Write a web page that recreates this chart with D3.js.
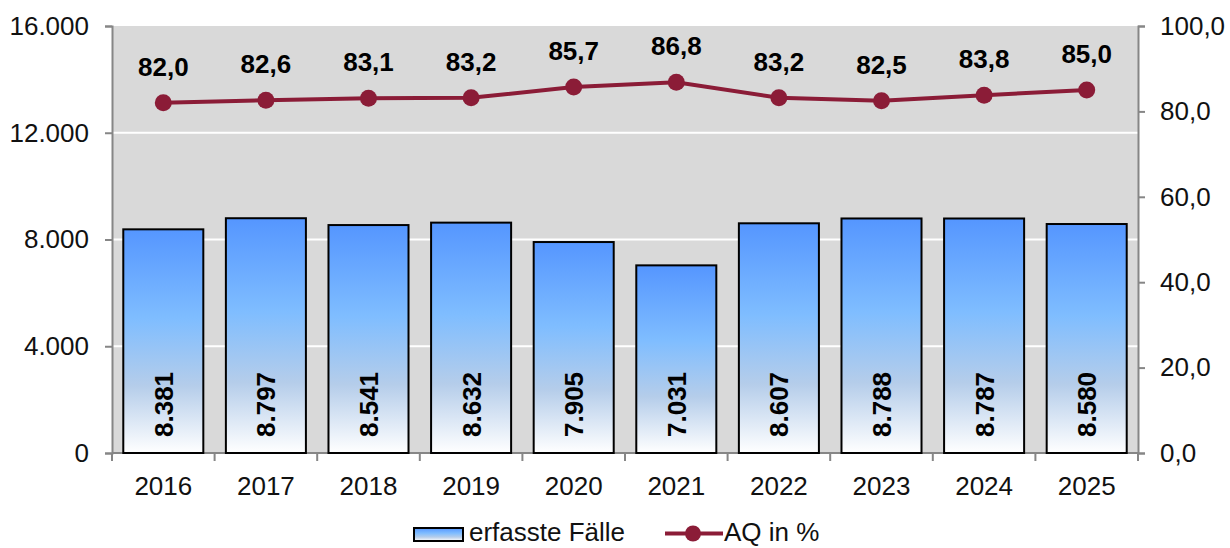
<!DOCTYPE html>
<html lang="de">
<head>
<meta charset="utf-8">
<title>erfasste Fälle / AQ in %</title>
<style>
  body { margin: 0; background: #fff; }
  svg { display: block; font-family: "Liberation Sans", Arial, sans-serif; }
</style>
</head>
<body>
<div id="chart"></div>
<script src="https://cdn.jsdelivr.net/npm/d3@7"></script>
<script>
// data
var years  = ["2016", "2017", "2018", "2019", "2020", "2021", "2022", "2023", "2024", "2025"];
var faelle = [8381, 8797, 8541, 8632, 7905, 7031, 8607, 8788, 8787, 8580];
var aq     = [82.0, 82.6, 83.1, 83.2, 85.7, 86.8, 83.2, 82.5, 83.8, 85.0];
var leftTicks  = [0, 4000, 8000, 12000, 16000];
var rightTicks = [0, 20, 40, 60, 80, 100];

var width = 1230, height = 548;
var m = { top: 26, right: 92, bottom: 95, left: 112 };
var lineColor = "#8b1c37";
var fs = 26;

var de = d3.formatLocale({ decimal: ",", thousands: ".", grouping: [3], currency: ["", "€"] });
var fmtInt = de.format(",.0f");
var fmt1 = de.format(".1f");

var svg = d3.select("#chart").append("svg")
    .attr("width", width)
    .attr("height", height);

var defs = svg.append("defs");
var grad = defs.append("linearGradient")
    .attr("id", "barGrad")
    .attr("x1", 0).attr("y1", 0).attr("x2", 0).attr("y2", 1);
grad.append("stop").attr("offset", "0%").attr("stop-color", "#5596ff");
grad.append("stop").attr("offset", "40%").attr("stop-color", "#7fbdff");
grad.append("stop").attr("offset", "70%").attr("stop-color", "#b5cdea");
grad.append("stop").attr("offset", "100%").attr("stop-color", "#ffffff");

var x = d3.scaleBand()
    .domain(years)
    .range([m.left, width - m.right])
    .paddingInner(0.22)
    .paddingOuter(0.11);

var yL = d3.scaleLinear().domain([0, 16000]).range([height - m.bottom, m.top]);
var yR = d3.scaleLinear().domain([0, 100]).range([height - m.bottom, m.top]);

// plot background
svg.append("rect")
    .attr("x", m.left).attr("y", m.top)
    .attr("width", width - m.left - m.right)
    .attr("height", height - m.top - m.bottom)
    .attr("fill", "#d9d9d9");

// grid
svg.append("g").selectAll("line")
    .data(leftTicks.slice(1, -1))
    .join("line")
    .attr("x1", m.left).attr("x2", width - m.right)
    .attr("y1", d => yL(d)).attr("y2", d => yL(d))
    .attr("stroke", "#fff").attr("stroke-width", 2);

// axes
var axisColor = "#868686";
var gL = svg.append("g")
    .attr("transform", `translate(${m.left},0)`)
    .call(d3.axisLeft(yL).tickValues(leftTicks).tickFormat(fmtInt).tickSize(7).tickPadding(16));
var gR = svg.append("g")
    .attr("transform", `translate(${width - m.right},0)`)
    .call(d3.axisRight(yR).tickValues(rightTicks).tickFormat(fmt1).tickSize(7).tickPadding(15));
[gL, gR].forEach(g => {
  g.select(".domain").attr("stroke", axisColor).attr("stroke-width", 2);
  g.selectAll(".tick line").attr("stroke", axisColor).attr("stroke-width", 2);
  g.selectAll(".tick text").attr("font-size", fs).attr("fill", "#111");
});

// x axis
var bounds = d3.range(years.length + 1).map(i => m.left + i * (width - m.left - m.right) / years.length);
var gX = svg.append("g");
gX.append("line")
    .attr("x1", m.left).attr("x2", width - m.right)
    .attr("y1", yL(0)).attr("y2", yL(0))
    .attr("stroke", axisColor).attr("stroke-width", 2);
gX.selectAll("line.tk")
    .data(bounds)
    .join("line")
    .attr("class", "tk")
    .attr("x1", d => d).attr("x2", d => d)
    .attr("y1", yL(0)).attr("y2", yL(0) + 8)
    .attr("stroke", axisColor).attr("stroke-width", 2);
gX.selectAll("text")
    .data(years)
    .join("text")
    .attr("x", d => x(d) + x.bandwidth() / 2)
    .attr("y", yL(0) + 42)
    .attr("text-anchor", "middle")
    .attr("font-size", fs)
    .attr("fill", "#111")
    .text(d => d);

// bars
svg.append("g").selectAll("rect")
    .data(years)
    .join("rect")
    .attr("x", d => x(d))
    .attr("y", (d, i) => yL(faelle[i]))
    .attr("width", x.bandwidth())
    .attr("height", (d, i) => yL(0) - yL(faelle[i]))
    .attr("fill", "url(#barGrad)")
    .attr("stroke", "#000")
    .attr("stroke-width", 2);

svg.append("g").selectAll("text")
    .data(years)
    .join("text")
    .attr("transform", d => `translate(${x(d) + x.bandwidth() / 2 + 9.5},${yL(0) - 16}) rotate(-90)`)
    .attr("text-anchor", "start")
    .attr("font-size", fs)
    .attr("font-weight", "bold")
    .attr("fill", "#000")
    .text((d, i) => fmtInt(faelle[i]));

// line
var line = d3.line()
    .x((d, i) => x(years[i]) + x.bandwidth() / 2)
    .y(d => yR(d));

svg.append("path")
    .datum(aq)
    .attr("d", line)
    .attr("fill", "none")
    .attr("stroke", lineColor)
    .attr("stroke-width", 4);

svg.append("g").selectAll("circle")
    .data(aq)
    .join("circle")
    .attr("cx", (d, i) => x(years[i]) + x.bandwidth() / 2)
    .attr("cy", d => yR(d))
    .attr("r", 8.5)
    .attr("fill", lineColor);

svg.append("g").selectAll("text")
    .data(aq)
    .join("text")
    .attr("x", (d, i) => x(years[i]) + x.bandwidth() / 2)
    .attr("y", d => yR(d) - 27)
    .attr("text-anchor", "middle")
    .attr("font-size", fs)
    .attr("font-weight", "bold")
    .attr("fill", "#000")
    .text(d => fmt1(d));

// legend
var lg = svg.append("g").attr("transform", `translate(0,${height - 7})`);
lg.append("rect")
    .attr("x", 414).attr("y", -13)
    .attr("width", 49).attr("height", 13)
    .attr("fill", "url(#barGrad)")
    .attr("stroke", "#000").attr("stroke-width", 2);
lg.append("text")
    .attr("x", 469).attr("y", 0)
    .attr("font-size", fs).attr("fill", "#111")
    .text("erfasste Fälle");
lg.append("line")
    .attr("x1", 665).attr("x2", 723)
    .attr("y1", -7.5).attr("y2", -7.5)
    .attr("stroke", lineColor).attr("stroke-width", 4);
lg.append("circle")
    .attr("cx", 693).attr("cy", -7.5).attr("r", 8)
    .attr("fill", lineColor);
lg.append("text")
    .attr("x", 724).attr("y", 0)
    .attr("font-size", fs).attr("fill", "#111")
    .text("AQ in %");
</script>
</body>
</html>
